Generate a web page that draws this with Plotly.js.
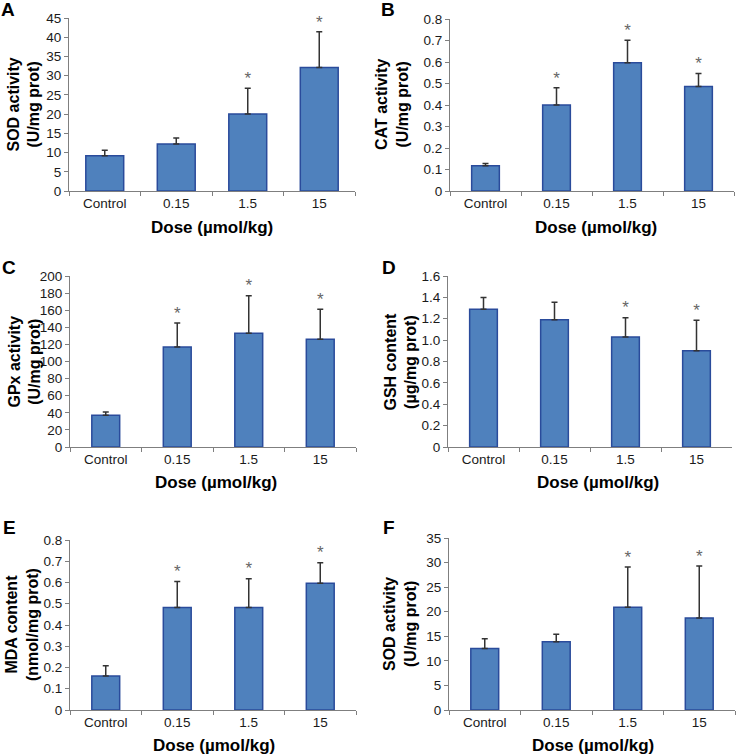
<!DOCTYPE html>
<html>
<head>
<meta charset="utf-8">
<script src="https://cdn.plot.ly/plotly-3.0.1.min.js"></script>
<style>html,body{margin:0;padding:0;background:#fff;}#chart{width:736px;height:754px;}</style>
</head>
<body>
<div id="chart"></div>
<script>
const categories = ['Control', '0.15', '1.5', '15'];

// Panel A: SOD activity
const sodA = [9.2, 12.2, 20.0, 32.1];
const sodAErr = [1.4, 1.6, 6.7, 9.3];
const sodASig = [false, false, true, true];
// Panel B: CAT activity
const cat = [0.118, 0.40, 0.597, 0.486];
const catErr = [0.01, 0.08, 0.104, 0.06];
const catSig = [false, true, true, true];
// Panel C: GPx activity
const gpx = [37, 117, 133, 126];
const gpxErr = [4, 28, 44, 35];
const gpxSig = [false, true, true, true];
// Panel D: GSH content
const gsh = [1.29, 1.19, 1.03, 0.90];
const gshErr = [0.11, 0.165, 0.18, 0.285];
const gshSig = [false, false, true, true];
// Panel E: MDA content
const mda = [0.16, 0.482, 0.482, 0.596];
const mdaErr = [0.048, 0.123, 0.136, 0.097];
const mdaSig = [false, true, true, true];
// Panel F: SOD activity
const sodF = [12.5, 13.9, 20.9, 18.7];
const sodFErr = [2.0, 1.5, 8.2, 10.6];
const sodFSig = [false, false, true, true];

const tickA = [0, 5, 10, 15, 20, 25, 30, 35, 40, 45];
const tickB = [0, 0.1, 0.2, 0.3, 0.4, 0.5, 0.6, 0.7, 0.8];
const tickC = [0, 20, 40, 60, 80, 100, 120, 140, 160, 180, 200];
const tickD = [0, 0.2, 0.4, 0.6, 0.8, 1.0, 1.2, 1.4, 1.6];
const tickDText = ['0', '0.2', '0.4', '0.6', '0.8', '1.0', '1.2', '1.4', '1.6'];
const tickE = [0, 0.1, 0.2, 0.3, 0.4, 0.5, 0.6, 0.7, 0.8];
const tickF = [0, 5, 10, 15, 20, 25, 30, 35];

const panelLetters = ['A', 'B', 'C', 'D', 'E', 'F'];
const yTitles = ['SOD activity<br>(U/mg prot)', 'CAT activity<br>(U/mg prot)', 'GPx activity<br>(U/mg prot)',
                 'GSH content<br>(µg/mg prot)', 'MDA content<br>(nmol/mg prot)', 'SOD activity<br>(U/mg prot)'];
const xTitle = 'Dose (µmol/kg)';

const W = 736, H = 754;
const panels = [
  {v: sodA, e: sodAErr, s: sodASig, tv: tickA, tt: tickA.map(String), px: [69, 355], py: [18, 191], bw: 0.53,
   letter: [8, 9], ytl: 24, xtl: [212, 227]},
  {v: cat, e: catErr, s: catSig, tv: tickB, tt: tickB.map(String), px: [450, 734], py: [19, 191], bw: 0.39,
   letter: [388, 9], ytl: 392, xtl: [596, 227]},
  {v: gpx, e: gpxErr, s: gpxSig, tv: tickC, tt: tickC.map(String), px: [70, 356], py: [276, 447], bw: 0.39,
   letter: [9, 267], ytl: 24, xtl: [216, 482]},
  {v: gsh, e: gshErr, s: gshSig, tv: tickD, tt: tickDText, px: [448, 732], py: [276, 447], bw: 0.39,
   letter: [389, 267], ytl: 400, xtl: [598, 482]},
  {v: mda, e: mdaErr, s: mdaSig, tv: tickE, tt: tickE.map(String), px: [70, 356], py: [540, 710], bw: 0.39,
   letter: [9, 527], ytl: 22, xtl: [214, 745]},
  {v: sodF, e: sodFErr, s: sodFSig, tv: tickF, tt: tickF.map(String), px: [449, 735], py: [538, 710], bw: 0.39,
   letter: [389, 527], ytl: 400, xtl: [593, 745]}
];

const traces = [];
const layout = {
  width: W, height: H,
  margin: {l: 0, r: 0, t: 0, b: 0},
  paper_bgcolor: '#fff', plot_bgcolor: 'rgba(0,0,0,0)',
  showlegend: false,
  font: {family: 'Liberation Sans, Arial, sans-serif', color: '#1a1a1a', size: 13},
  annotations: []
};

panels.forEach((p, i) => {
  const n = i === 0 ? '' : String(i + 1);
  const xa = 'x' + n, ya = 'y' + n;
  traces.push({
    type: 'bar', x: categories, y: p.v, xaxis: xa, yaxis: ya, width: p.bw,
    marker: {color: '#4f81bd', line: {color: '#2a4b9b', width: 1.5}},
    error_y: {type: 'data', array: p.e, arrayminus: p.e.map(() => 0), symmetric: false,
              color: '#333333', thickness: 1.5, width: 3},
    hoverinfo: 'none'
  });
  traces.push({
    type: 'scatter', mode: 'text', x: categories, y: p.v.map((v, k) => v + p.e[k]),
    text: p.s.map(b => b ? '*' : ''), textposition: 'top center',
    textfont: {size: 17, color: '#666', family: 'Liberation Sans, Arial, sans-serif'},
    xaxis: xa, yaxis: ya, cliponaxis: false, hoverinfo: 'none'
  });
  layout['xaxis' + n] = {
    domain: [p.px[0] / W, p.px[1] / W], anchor: ya,
    type: 'category', range: [-0.5, 3.5], fixedrange: true,
    showline: true, linecolor: '#7f7f7f', linewidth: 1,
    ticks: 'outside', tickson: 'boundaries', ticklen: 4, tickcolor: '#7f7f7f',
    showgrid: false, zeroline: false, tickfont: {size: 13.5, color: '#1a1a1a'}
  };
  layout['yaxis' + n] = {
    domain: [1 - p.py[1] / H, 1 - p.py[0] / H], anchor: xa,
    range: [0, p.tv[p.tv.length - 1]], fixedrange: true,
    tickvals: p.tv, ticktext: p.tt,
    showline: true, linecolor: '#7f7f7f', linewidth: 1,
    ticks: 'outside', ticklen: 4, tickcolor: '#7f7f7f',
    showgrid: false, zeroline: false, tickfont: {size: 13.5, color: '#1a1a1a'}
  };
  layout.annotations.push({
    text: '<b>' + panelLetters[i] + '</b>', xref: 'paper', yref: 'paper',
    x: p.letter[0] / W, y: 1 - p.letter[1] / H, xanchor: 'center', yanchor: 'middle',
    showarrow: false, font: {size: 19, color: '#000'}
  });
  layout.annotations.push({
    text: '<b>' + yTitles[i] + '</b>', xref: 'paper', yref: 'paper',
    x: p.ytl / W, y: 1 - ((p.py[0] + p.py[1]) / 2) / H, xanchor: 'center', yanchor: 'middle',
    textangle: -90, showarrow: false, font: {size: 16, color: '#000'}
  });
  layout.annotations.push({
    text: '<b>' + xTitle + '</b>', xref: 'paper', yref: 'paper',
    x: p.xtl[0] / W, y: 1 - p.xtl[1] / H, xanchor: 'center', yanchor: 'middle',
    showarrow: false, font: {size: 17, color: '#000'}
  });
});

Plotly.newPlot('chart', traces, layout, {displayModeBar: false, staticPlot: true});
</script>
</body>
</html>
